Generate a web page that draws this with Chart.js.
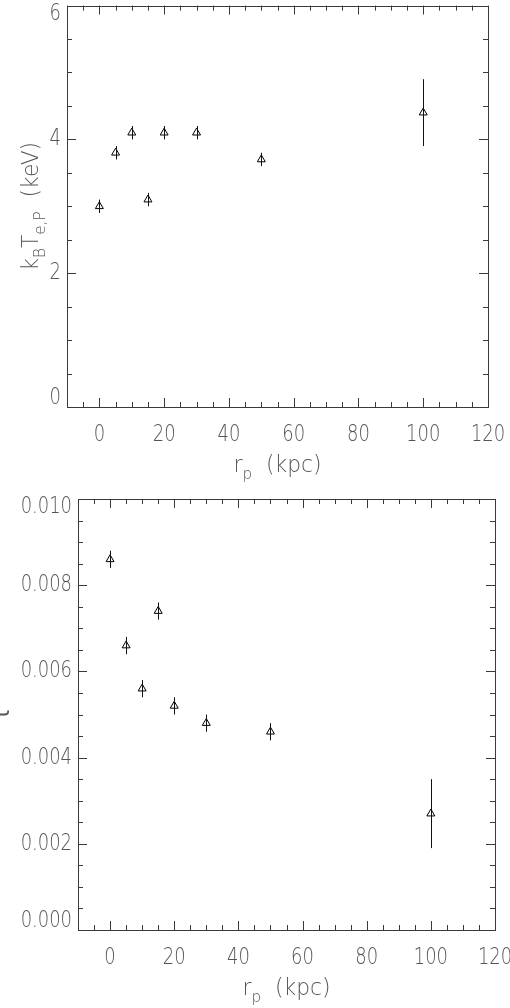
<!DOCTYPE html>
<html>
<head>
<meta charset="utf-8">
<script src="https://cdn.jsdelivr.net/npm/chart.js@4/dist/chart.umd.min.js"></script>
<style>
html, body { margin: 0; padding: 0; background: #fff; }
#wrap { position: relative; width: 510px; height: 1008px; }
canvas { position: absolute; left: 0; }
</style>
</head>
<body>
<div id="wrap">
  <canvas id="tempChart" width="510" height="490" style="top:0"></canvas>
  <canvas id="tauChart" width="510" height="518" style="top:490px"></canvas>
</div>
<script>
// projected radius of each annulus (kpc)
const radiusKpc = [0, 5, 10, 15, 20, 30, 50, 100];
// top panel: projected electron temperature and its 1-sigma error
const temperatureKeV = [3.0, 3.8, 4.1, 3.1, 4.1, 4.1, 3.7, 4.4];
const temperatureErr = [0.1, 0.1, 0.1, 0.1, 0.1, 0.1, 0.1, 0.5];
// bottom panel: optical depth tau and its error
const opticalDepth = [0.0086, 0.0066, 0.0056, 0.0074, 0.0052, 0.0048, 0.0046, 0.0027];
const opticalDepthErr = [0.0002, 0.0002, 0.0002, 0.0002, 0.0002, 0.0002, 0.0002, 0.0008];
// axis tick labels
const xTicks = [0, 20, 40, 60, 80, 100, 120];
const tempTicks = [0, 2, 4, 6];
const tauTicks = [0.000, 0.002, 0.004, 0.006, 0.008, 0.010];

const LINE_COLOR = "#3a3a3a";
const LABEL_COLOR = "#555";
const FONT_FAMILY = "'DejaVu Sans', sans-serif";
const LABEL_FONT = `200 23px ${FONT_FAMILY}`;
const SQUEEZE = 0.78; // Hershey-like narrow digits
const TITLE_SQUEEZE = 0.95;

// Draw text squeezed horizontally, aligned by its (squeezed) box.
function squeezedText(ctx, text, x, y, align) {
    ctx.save();
    ctx.font = LABEL_FONT;
    const w = ctx.measureText(text).width * SQUEEZE;
    let left = x - w / 2;
    if (align === "right") left = x - w;
    if (align === "left") left = x;
    ctx.translate(left, y);
    ctx.scale(SQUEEZE, 1);
    ctx.textAlign = "left";
    ctx.textBaseline = "middle";
    ctx.fillText(text, 0, 0);
    ctx.restore();
}

// Text with subscripts: parts = [[text, isSub], ...], centred on (0,0) of current transform.
function richText(ctx, parts, weight) {
    const fontFor = (sub) => `${weight} ${sub ? 16 : 23}px ${FONT_FAMILY}`;
    let total = 0;
    parts.forEach(([t, sub]) => { ctx.font = fontFor(sub); total += ctx.measureText(t).width * TITLE_SQUEEZE; });
    let x = -total / 2;
    ctx.textBaseline = "middle";
    ctx.textAlign = "left";
    parts.forEach(([t, sub]) => {
        ctx.font = fontFor(sub);
        const w = ctx.measureText(t).width * TITLE_SQUEEZE;
        ctx.save();
        ctx.translate(x, sub ? 9 : 0);
        ctx.scale(TITLE_SQUEEZE, 1);
        ctx.fillText(t, 0, 0);
        ctx.restore();
        x += w;
    });
}

// IDL-style box: frame, inward major/minor ticks on all four sides, tick labels, axis titles, error bars.
const idlFramePlugin = {
    id: "idlFrame",
    afterDatasetsDraw(chart, args, opts) {
        const { ctx, chartArea: a } = chart;
        const xs = chart.scales.x, ys = chart.scales.y;
        ctx.save();
        ctx.lineWidth = 1;

        // error bars, through the open triangles
        const ds = chart.data.datasets[0];
        ctx.strokeStyle = "#111";
        ds.data.forEach((p, i) => {
            const px = Math.round(xs.getPixelForValue(p.x)) + 0.5;
            const lo = ys.getPixelForValue(p.y - ds.yErr[i]);
            const hi = ys.getPixelForValue(p.y + ds.yErr[i]);
            ctx.beginPath();
            ctx.moveTo(px, lo);
            ctx.lineTo(px, hi);
            ctx.stroke();
        });

        // frame
        ctx.strokeStyle = LINE_COLOR;
        ctx.strokeRect(Math.round(a.left) + 0.5, Math.round(a.top) + 0.5,
            Math.round(a.right - a.left), Math.round(a.bottom - a.top));

        const MAJOR = 9, MINOR = 5, eps = 1e-6;
        // x ticks (bottom and top, pointing inward)
        for (let k = 0; xs.min + k * opts.xMinor <= xs.max + eps; k++) {
            const v = xs.min + k * opts.xMinor;
            const isMajor = xTicks.some((t) => Math.abs(t - v) < eps);
            const len = isMajor ? MAJOR : MINOR;
            const px = Math.round(xs.getPixelForValue(v)) + 0.5;
            ctx.beginPath();
            ctx.moveTo(px, a.bottom); ctx.lineTo(px, a.bottom - len);
            ctx.moveTo(px, a.top); ctx.lineTo(px, a.top + len);
            ctx.stroke();
        }
        // y ticks (left and right, pointing inward)
        const yMajor = opts.yTicks;
        for (let k = 0; ys.min + k * opts.yMinor <= ys.max + opts.yMinor * 1e-6; k++) {
            const v = ys.min + k * opts.yMinor;
            const isMajor = yMajor.some((t) => Math.abs(t - v) < opts.yMinor * 1e-3);
            const len = isMajor ? MAJOR : MINOR;
            const py = Math.round(ys.getPixelForValue(v)) + 0.5;
            ctx.beginPath();
            ctx.moveTo(a.left, py); ctx.lineTo(a.left + len, py);
            ctx.moveTo(a.right, py); ctx.lineTo(a.right - len, py);
            ctx.stroke();
        }

        // tick labels
        ctx.fillStyle = LABEL_COLOR;
        xTicks.forEach((t) => {
            squeezedText(ctx, String(t), xs.getPixelForValue(t), a.bottom + 28, "center");
        });
        const half = 8.5;
        yMajor.forEach((t) => {
            let py = ys.getPixelForValue(t);
            py = Math.min(Math.max(py, a.top + half), a.bottom - half); // edge labels kept inside the box
            squeezedText(ctx, opts.yFormat(t), a.left - 6, py, "right");
        });

        // axis titles
        ctx.save();
        ctx.translate((a.left + a.right) / 2, a.bottom + 59);
        richText(ctx, [["r", false], ["p", true], ["  (kpc)", false]], 200);
        ctx.restore();
        ctx.save();
        ctx.translate(opts.yTitleX, (a.top + a.bottom) / 2);
        ctx.rotate(-Math.PI / 2);
        richText(ctx, opts.yTitle, opts.yTitleWeight);
        ctx.restore();

        ctx.restore();
    },
};

function fixedScale(size) {
    return function (scale) {
        if (scale.isHorizontal()) scale.height = size; else scale.width = size;
        scale.paddingLeft = scale.paddingRight = scale.paddingTop = scale.paddingBottom = 0;
    };
}

function buildConfig(values, errors, yMin, yMax, panel) {
    return {
        type: "scatter",
        data: {
            datasets: [{
                data: radiusKpc.map((x, i) => ({ x, y: values[i] })),
                yErr: errors,
                pointStyle: "triangle",
                pointRadius: 4.6,
                borderColor: "#000",
                borderWidth: 1,
                backgroundColor: "rgba(0,0,0,0)",
                showLine: false,
            }],
        },
        options: {
            responsive: false,
            animation: false,
            devicePixelRatio: 1,
            layout: { padding: panel.padding },
            scales: {
                x: {
                    type: "linear", min: -10, max: 120,
                    grid: { display: false }, border: { display: false },
                    ticks: { display: false },
                    afterFit: fixedScale(panel.xHeight),
                },
                y: {
                    type: "linear", min: yMin, max: yMax,
                    grid: { display: false }, border: { display: false },
                    ticks: { display: false },
                    afterFit: fixedScale(panel.yWidth),
                },
            },
            plugins: {
                legend: { display: false },
                tooltip: { enabled: false },
                idlFrame: panel.frame,
            },
        },
        plugins: [idlFramePlugin],
    };
}

new Chart(document.getElementById("tempChart"), buildConfig(temperatureKeV, temperatureErr, 0, 6, {
    padding: { left: 0, right: 22, top: 1, bottom: 0 },
    xHeight: 83,
    yWidth: 67,
    frame: {
        xMinor: 5, yMinor: 0.5, yTicks: tempTicks,
        yFormat: (v) => String(v),
        yTitleX: 32,
        yTitleWeight: 200,
        yTitle: [["k", false], ["B", true], ["T", false], ["e,P", true], ["  (keV)", false]],
    },
}));

new Chart(document.getElementById("tauChart"), buildConfig(opticalDepth, opticalDepthErr, 0, 0.010, {
    padding: { left: 0, right: 15, top: 9, bottom: 0 },
    xHeight: 78,
    yWidth: 78,
    frame: {
        xMinor: 5, yMinor: 0.0005, yTicks: tauTicks,
        yFormat: (v) => v.toFixed(3),
        yTitleX: 3,
        yTitleWeight: "normal",
        yTitle: [["\u03c4", false]],
    },
}));
</script>
</body>
</html>
